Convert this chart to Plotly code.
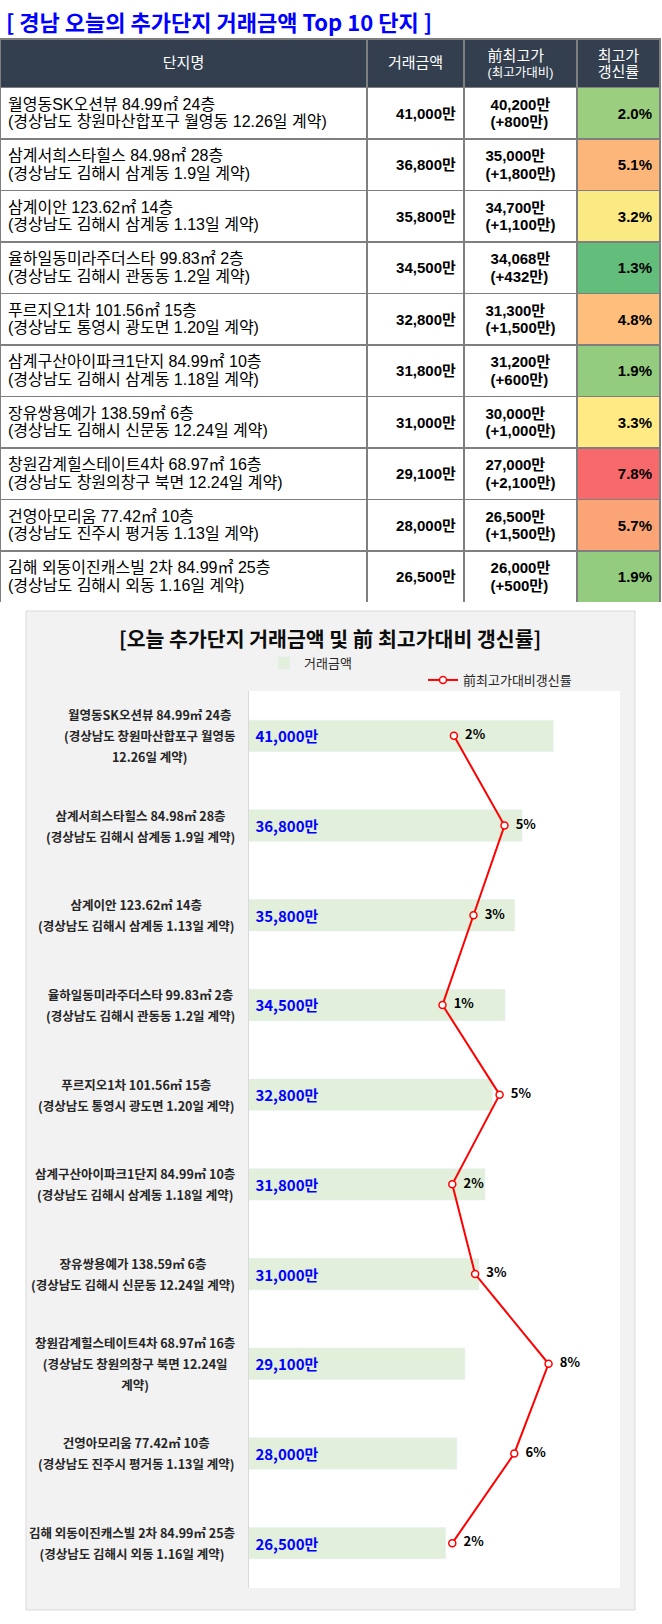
import numpy as np
import plotly.graph_objects as go
from plotly.colors import sample_colorscale

# 단지 정보
names = ["월영동SK오션뷰", "삼계서희스타힐스", "삼계이안", "율하일동미라주더스타", "푸르지오1차",
         "삼계구산아이파크1단지", "장유쌍용예가", "창원감계힐스테이트4차", "건영아모리움", "김해 외동이진캐스빌 2차"]
areas = ["84.99", "84.98", "123.62", "99.83", "101.56", "84.99", "138.59", "68.97", "77.42", "84.99"]
floors = [24, 28, 14, 2, 15, 10, 6, 16, 10, 25]
regions = ["창원마산합포구 월영동", "김해시 삼계동", "김해시 삼계동", "김해시 관동동", "통영시 광도면",
           "김해시 삼계동", "김해시 신문동", "창원의창구 북면", "진주시 평거동", "김해시 외동"]
dates = ["12.26", "1.9", "1.13", "1.2", "1.20", "1.18", "12.24", "12.24", "1.13", "1.16"]

# 거래금액, 前최고가 (만원) / 갱신률 (%)
prices = [41000, 36800, 35800, 34500, 32800, 31800, 31000, 29100, 28000, 26500]
prev_highs = [40200, 35000, 34700, 34068, 31300, 31200, 30000, 27000, 26500, 26000]
rates = [2.0, 5.1, 3.2, 1.3, 4.8, 1.9, 3.3, 7.8, 5.7, 1.9]

header_labels = ["단지명", "거래금액", "前최고가", "(최고가대비)", "최고가", "갱신률"]

W, H = 662, 1624
FONT = "Noto Sans CJK KR"
TFONT = "Liberation Sans, Noto Sans CJK KR"


def py(y):
    return 1 - y / H


def pxx(x):
    return x / W


def sp(txt, size, bold=False):
    if bold:
        txt = f"<b>{txt}</b>"
    return f"<span style='font-size:{size}px'>{txt}</span>"


PAD = "<span style='font-size:1px'>&nbsp;</span><br>"   # 한 줄짜리 셀 세로 가운데 맞춤용

# 엑셀 3색 조건부 서식 (녹-황-적)
lo, hi, mid = min(rates), max(rates), float(np.median(rates))
scale = [[0, "rgb(99,190,123)"], [(mid - lo) / (hi - lo), "rgb(255,235,132)"], [1, "rgb(248,105,107)"]]
rate_colors = sample_colorscale(scale, [(r - lo) / (hi - lo) for r in rates])


def em(s):
    return sum(1.0 if ord(c) > 0x2E80 else (0.3 if c == " " else 0.55) for c in s)


def wrap(text, limit=18.5):
    lines, cur = [], ""
    for w in text.split(" "):
        t = (cur + " " + w) if cur else w
        if cur and em(t) > limit:
            lines.append(cur)
            cur = w
        else:
            cur = t
    lines.append(cur)
    return lines


line1 = [f"{n} {a}㎡ {f}층" for n, a, f in zip(names, areas, floors)]
line2 = [f"(경상남도 {r} {d}일 계약)" for r, d in zip(regions, dates)]

# 표
white = ["white"] * len(names)
col1 = [sp(a, 16) + "<br>" + sp(b, 16) for a, b in zip(line1, line2)]
col2 = [PAD + sp(f"{p:,}만", 15, True) for p in prices]
col3 = [sp(f"{h:,}만", 15, True) + "<br>" + sp(f"(+{p - h:,}만)", 15, True)
        for p, h in zip(prices, prev_highs)]
col4 = [PAD + sp(f"{r:.1f}%", 15, True) for r in rates]

hdr = [PAD + sp(header_labels[0], 15),
       PAD + sp(header_labels[1], 15),
       sp(header_labels[2], 15) + "<br>" + sp(header_labels[3], 12.5),
       sp(header_labels[4], 15) + "<br>" + sp(header_labels[5], 15)]

fig = go.Figure()
fig.add_trace(go.Table(
    domain=dict(x=[0, pxx(660)], y=[py(603), py(39)]),
    columnwidth=[367, 97, 113, 83],
    header=dict(values=hdr, fill_color="#333F4F", align="center", height=43,
                font=dict(family=TFONT, size=[15.5, 15.5, 12, 12], color="white"),
                line=dict(color="#7F7F7F", width=1.5)),
    cells=dict(values=[col1, col2, col3, col4], height=51.5,
               align=["left", "right", "center", "right"],
               fill=dict(color=[white, white, white, rate_colors]),
               font=dict(family=TFONT, size=[13.5, 17, 13.5, 17], color="black"),
               line=dict(color="#7F7F7F", width=1.5)),
))

fig.add_trace(go.Bar(
    x=prices, y=names, orientation="h", width=0.35, name="거래금액",
    marker_color="#E2EFDA", texttemplate="\u00a0<b>%{x:,.0f}만</b>",
    textposition="inside", insidetextanchor="start",
    textfont=dict(family=FONT, size=15, color="#0000FF"),
    hoverinfo="skip", legend="legend",
))

fig.add_trace(go.Scatter(
    x=rates, y=names, xaxis="x2", mode="lines+markers+text", name="前최고가대비갱신률",
    line=dict(color="#FF0000", width=2),
    marker=dict(symbol="circle", size=7, color="white", line=dict(color="#FF0000", width=1.5)),
    texttemplate="\u00a0\u00a0<b>%{x:.0f}%</b>", textposition="middle right",
    textfont=dict(family=FONT, size=13, color="black"),
    cliponaxis=False, legend="legend2",
))

annotations = [
    dict(text="<b>[ 경남 오늘의 추가단지 거래금액 Top 10 단지 ]</b>", x=pxx(4), y=py(21),
         xref="paper", yref="paper", xanchor="left", yanchor="middle", showarrow=False,
         font=dict(family=FONT, size=22, color="#0000FF")),
    dict(text="<b>[오늘 추가단지 거래금액 및 前 최고가대비 갱신률]</b>", x=pxx(330), y=py(638),
         xref="paper", yref="paper", xanchor="center", yanchor="middle", showarrow=False,
         font=dict(family=FONT, size=20.5, color="#0D0D0D")),
]
for n, a, b in zip(names, line1, line2):
    lines = [a] + wrap(b)
    txt = "<br>".join(sp(ln, 12.5, True) for ln in lines)
    annotations.append(dict(text=txt, x=pxx(237), y=n, xref="paper", yref="y",
                            xanchor="right", yanchor="middle", align="center", showarrow=False,
                            font=dict(family=FONT, size=16, color="#262626")))

fig.update_layout(
    width=W, height=H, margin=dict(l=0, r=0, t=0, b=0),
    paper_bgcolor="white", plot_bgcolor="white",
    font=dict(family=FONT),
    xaxis=dict(domain=[pxx(249), pxx(620)], range=[0, 50000], visible=False, fixedrange=True),
    xaxis2=dict(overlaying="x", range=[-10.56, 12.18], visible=False, fixedrange=True),
    yaxis=dict(domain=[py(1588), py(691)], type="category", categoryorder="array",
               categoryarray=names, range=[9.5, -0.5], showticklabels=False, ticks="",
               showgrid=False, zeroline=False, showline=True, linecolor="#D9D9D9",
               fixedrange=True),
    shapes=[
        dict(type="rect", xref="paper", yref="paper", x0=pxx(26), x1=pxx(635), y0=py(1610), y1=py(611),
             fillcolor="#F2F2F2", line=dict(color="#D9D9D9", width=1), layer="below"),
        dict(type="rect", xref="x domain", yref="y domain", x0=0, x1=1, y0=0, y1=1,
             fillcolor="white", line=dict(width=0), layer="below"),
    ],
    showlegend=True,
    legend=dict(x=pxx(264), y=py(663), xanchor="left", yanchor="middle", bgcolor="rgba(0,0,0,0)",
                font=dict(family=FONT, size=13, color="#262626")),
    legend2=dict(x=pxx(423), y=py(680), xanchor="left", yanchor="middle", bgcolor="rgba(0,0,0,0)",
                 font=dict(family=FONT, size=13, color="#262626")),
    annotations=annotations,
)

fig.write_html("out.html", config={"displayModeBar": False},
               post_script="document.body.style.margin='0';document.body.style.overflow='hidden';")
